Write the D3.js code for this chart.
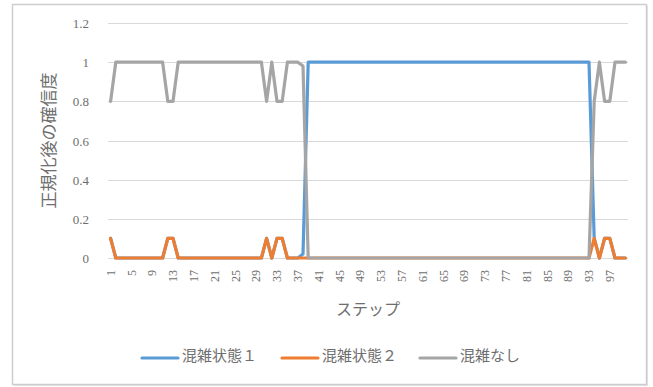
<!DOCTYPE html>
<html>
<head>
<meta charset="utf-8">
<script src="https://cdn.jsdelivr.net/npm/d3@7"></script>
<style>
  body { margin: 0; background: #fff; }
  text { font-family: "Liberation Serif", "Noto Sans CJK JP", serif; fill: #6e6e6e; }
</style>
</head>
<body>
<svg id="chart"></svg>
<script>

// steps 1..100 on the category axis
var steps = d3.range(1, 101);
var tickSteps = [1,5,9,13,17,21,25,29,33,37,41,45,49,53,57,61,65,69,73,77,81,85,89,93,97];
var yTicks = [0, 0.2, 0.4, 0.6, 0.8, 1, 1.2];

var seriesNames = ["混雑状態１", "混雑状態２", "混雑なし"];
var seriesColors = ["#5B9BD5", "#ED7D31", "#A5A5A5"];

var congest1 = [
  0.1,0,0,0,0,0,0,0,0,0,
  0,0.1,0.1,0,0,0,0,0,0,0,
  0,0,0,0,0,0,0,0,0,0,
  0.1,0,0.1,0.1,0,0,0,0.02,1,1,
  1,1,1,1,1,1,1,1,1,1,
  1,1,1,1,1,1,1,1,1,1,
  1,1,1,1,1,1,1,1,1,1,
  1,1,1,1,1,1,1,1,1,1,
  1,1,1,1,1,1,1,1,1,1,
  1,1,1,0.1,0,0.1,0.1,0,0,0
];
var congest2 = [
  0.1,0,0,0,0,0,0,0,0,0,
  0,0.1,0.1,0,0,0,0,0,0,0,
  0,0,0,0,0,0,0,0,0,0,
  0.1,0,0.1,0.1,0,0,0,0,0,0,
  0,0,0,0,0,0,0,0,0,0,
  0,0,0,0,0,0,0,0,0,0,
  0,0,0,0,0,0,0,0,0,0,
  0,0,0,0,0,0,0,0,0,0,
  0,0,0,0,0,0,0,0,0,0,
  0,0,0,0.1,0,0.1,0.1,0,0,0
];
var noCongest = [
  0.8,1,1,1,1,1,1,1,1,1,
  1,0.8,0.8,1,1,1,1,1,1,1,
  1,1,1,1,1,1,1,1,1,1,
  0.8,1,0.8,0.8,1,1,1,0.98,0,0,
  0,0,0,0,0,0,0,0,0,0,
  0,0,0,0,0,0,0,0,0,0,
  0,0,0,0,0,0,0,0,0,0,
  0,0,0,0,0,0,0,0,0,0,
  0,0,0,0,0,0,0,0,0,0,
  0,0,0,0.8,1,0.8,0.8,1,1,1
];

var W = 653, H = 387;
var svg = d3.select('#chart').attr('width', W).attr('height', H);

// outer chart frame (with a faint shadow on the right/bottom)
svg.append('rect')
  .attr('x', 14).attr('y', 6)
  .attr('width', 634).attr('height', 380)
  .attr('fill', '#e4e4e4');
svg.append('rect')
  .attr('x', 12.5).attr('y', 4.5)
  .attr('width', 634).attr('height', 380)
  .attr('fill', '#fff')
  .attr('stroke', '#cdcdcd')
  .attr('stroke-width', 1.5);

var plot = { left: 108, right: 628, top: 23, bottom: 258 };

var x = d3.scaleBand().domain(steps).range([plot.left, plot.right]);
var y = d3.scaleLinear().domain([0, 1.2]).range([plot.bottom, plot.top]);
var cx = function(s) { return x(s) + x.bandwidth() / 2; };

// gridlines
svg.append('g')
  .selectAll('line')
  .data(yTicks)
  .join('line')
  .attr('x1', plot.left).attr('x2', plot.right)
  .attr('y1', function(d) { return Math.round(y(d)) + 0.5; })
  .attr('y2', function(d) { return Math.round(y(d)) + 0.5; })
  .attr('stroke', '#d9d9d9')
  .attr('stroke-width', 1);

// y axis labels
var yAxis = svg.append('g')
  .attr('transform', 'translate(' + (plot.left - 16) + ',0)')
  .call(d3.axisLeft(y).tickValues(yTicks).tickSize(0).tickFormat(d3.format('~g')));
yAxis.select('.domain').remove();
yAxis.selectAll('text').style('font-size', '13px').attr('dy', '0.35em');

// x axis labels (rotated)
var xAxis = svg.append('g')
  .attr('transform', 'translate(0,' + plot.bottom + ')')
  .call(d3.axisBottom(x).tickValues(tickSteps).tickSize(0));
xAxis.select('.domain').remove();
xAxis.selectAll('text')
  .style('font-size', '12px')
  .attr('text-anchor', 'end')
  .attr('transform', 'rotate(-90)')
  .attr('x', -12)
  .attr('y', 0)
  .attr('dy', '0.35em');

// axis titles
svg.append('text')
  .attr('x', (plot.left + plot.right) / 2)
  .attr('y', 311)
  .attr('text-anchor', 'middle')
  .attr('dominant-baseline', 'middle')
  .style('font-size', '16px')
  .text('ステップ');

svg.append('text')
  .attr('transform', 'translate(51,' + ((plot.top + plot.bottom) / 2) + ') rotate(-90)')
  .attr('text-anchor', 'middle')
  .attr('dominant-baseline', 'middle')
  .style('font-size', '17px')
  .text('正規化後の確信度');

// series lines
var allSeries = [congest1, congest2, noCongest];
var line = d3.line()
  .x(function(d, i) { return cx(steps[i]); })
  .y(function(d) { return y(d); });

allSeries.forEach(function(vals, k) {
  svg.append('path')
    .datum(vals)
    .attr('d', line)
    .attr('fill', 'none')
    .attr('stroke', seriesColors[k])
    .attr('stroke-width', 3.2)
    .attr('stroke-linejoin', 'round')
    .attr('stroke-linecap', 'round');
});

// legend
var legendX = [142, 282, 420];
var legend = svg.append('g');
seriesNames.forEach(function(name, k) {
  legend.append('line')
    .attr('x1', legendX[k]).attr('x2', legendX[k] + 36)
    .attr('y1', 358).attr('y2', 358)
    .attr('stroke', seriesColors[k])
    .attr('stroke-width', 3.2)
    .attr('stroke-linecap', 'round');
  legend.append('text')
    .attr('x', legendX[k] + 40)
    .attr('y', 358)
    .attr('dominant-baseline', 'middle')
    .style('font-size', '15px')
    .text(name);
});

</script>
</body>
</html>
